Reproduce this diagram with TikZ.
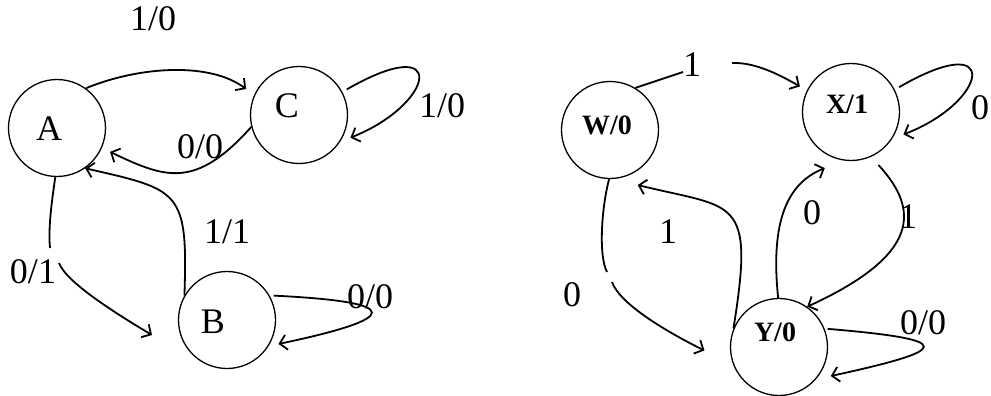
\documentclass[tikz,border=0pt]{standalone}
\usepackage{fontspec}
\setmainfont{Liberation Serif}
\usetikzlibrary{arrows.meta}
\begin{document}
\begin{tikzpicture}[x=1pt,y=-1pt,
  state/.style={draw, circle, minimum size=97pt, inner sep=0pt, line width=1.3pt},
  stname/.style={font=\fontsize{36}{36}\selectfont, inner sep=0pt},
  stnameb/.style={font=\fontsize{28}{28}\selectfont\bfseries, inner sep=0pt},
  lbl/.style={font=\fontsize{36}{36}\selectfont, inner sep=0pt},
  plainline/.style={line width=1.8pt},
  edge/.style={line width=1.8pt, -{Straight Barb[length=7pt,width=15pt]}}]
\useasboundingbox (0,0) rectangle (991,396);
% ---------- left machine ----------
\node[state] (A) at (57,128) {};
\node[state] (C) at (299,115) {};
\node[state] (B) at (227,320) {};
\node[stname] (At) at (49,129) {A};
\node[stname] (Ct) at (287,106) {C};
\node[stname] (Bt) at (213,322) {B};
% A -> C
\draw[edge, shorten >=10pt] (A.54) .. controls (140,66) and (210,62) .. (C.156);
\node[lbl] (l10a) at (153,19) {1/0};
% C loop
\draw[edge, shorten <=5pt, shorten >=11pt] (C.28) .. controls (450,30) and (435,104) .. (C.-33);
\node[lbl] (l10b) at (442,106) {1/0};
% C -> A
\draw[edge, shorten >=9pt] (C.194) .. controls (195,190) and (165,178) .. (A.-24);
\node[lbl] (l00a) at (200,147) {0/0};
% A -> B (broken line)
\coordinate (ab1) at (50,248);
\coordinate (ab2) at (59,263);
\coordinate (bIn) at (152,335);
\draw[plainline] (A.-92) .. controls (52,200) and (48,228) .. (ab1);
\draw[edge] (ab2) .. controls (66,282) and (115,313) .. (bIn);
\node[lbl] (l01) at (33,272) {0/1};
% B -> A
\draw[edge] (B.150) .. controls (188,190) and (180,190) .. (A.-55);
\node[lbl] (l11) at (227,232) {1/1};
% B loop
\draw[edge, shorten <=4pt, shorten >=10pt] (B.30) .. controls (405,302) and (402,318) .. (B.-32);
\node[lbl] (l00b) at (370,297) {0/0};
% ---------- right machine ----------
\node[state] (W) at (610,130) {};
\node[state] (X) at (851,112) {};
\node[state] (Y) at (779,347) {};
\node[stnameb] (Wt) at (607,125) {W/0};
\node[stnameb] (Xt) at (847,104) {X/1};
\node[stnameb] (Yt) at (775,332) {Y/0};
% W -> X (broken line)
\coordinate (wx1) at (683,72);
\coordinate (wx2) at (732,63);
\draw[plainline] (W.59) -- (wx1);
\draw[edge, shorten >=8pt] (wx2) .. controls (755,62) and (780,75) .. (X.154);
\node[lbl] (r1a) at (692,65) {1};
% X loop
\draw[edge, shorten <=5pt, shorten >=12pt] (X.27) .. controls (1003,27) and (988,102) .. (X.-33);
\node[lbl] (r0a) at (980,108) {0};
% X -> Y
\draw[edge, shorten <=11pt] (X.-66) .. controls (920,210) and (920,255) .. (Y.55);
\node[lbl] (r1b) at (908,217) {1};
% Y -> X
\draw[edge, shorten >=20pt] (Y.91) .. controls (770,220) and (788,183) .. (X.-99);
\node[lbl] (r0b) at (812,213) {0};
% Y -> W
\draw[edge, shorten >=25pt] (Y.158) .. controls (755,195) and (735,209) .. (W.-86);
\node[lbl] (r1c) at (668,232) {1};
% W -> Y (broken line)
\coordinate (wy1) at (607,272);
\coordinate (wy2) at (612,282);
\draw[plainline] (W.-91) .. controls (602,205) and (598,255) .. (wy1);
\draw[edge, shorten >=32pt] (wy2) .. controls (620,305) and (671,334) .. (Y.-159);
\node[lbl] (r0c) at (572,295) {0};
% Y loop
\draw[edge, shorten <=3pt, shorten >=15pt] (Y.22) .. controls (960,340) and (950,350) .. (Y.-41);
\node[lbl] (r00) at (923,323) {0/0};
\end{tikzpicture}
\end{document}
